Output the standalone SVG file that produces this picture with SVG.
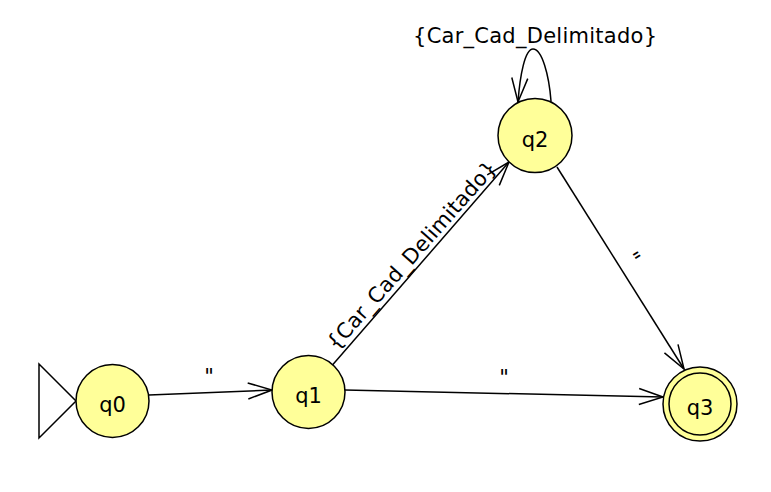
<svg xmlns="http://www.w3.org/2000/svg" width="771" height="492" viewBox="0 0 771 492">
<style>
.node{fill:#ffff99;stroke:#000;stroke-width:1.5}
.edge{fill:none;stroke:#000;stroke-width:1.5}
.t{font-family:"DejaVu Sans","Liberation Sans",sans-serif;font-size:21px;fill:#000;text-anchor:middle}
.lbl{font-family:"DejaVu Sans","Liberation Sans",sans-serif;font-size:21px;fill:#000;text-anchor:middle}
</style>
<defs>
<marker id="arr" markerUnits="userSpaceOnUse" markerWidth="30" markerHeight="20" viewBox="-26 -10 30 20" refX="0" refY="0" orient="auto" overflow="visible">
<path d="M-24,-8 L0,0 L-24,8" fill="none" stroke="#000" stroke-width="1.5"/>
</marker>
</defs>
<rect width="771" height="492" fill="#fff"/>
<g id="connectors">
<path id="start" d="M39,364 L39,438 L76,401 Z" fill="none" stroke="#000" stroke-width="1.5"/>
<path class="edge" d="M149,395 L272,390" marker-end="url(#arr)"/>
<path class="edge" d="M345,390 L663,397" marker-end="url(#arr)"/>
<path class="edge" d="M332.7,364.7 L509,162" marker-end="url(#arr)"/>
<path class="edge" d="M557,167 L684,369" marker-end="url(#arr)"/>
<path class="edge" d="M551,101 C549,75 542,49 533,49 C525,49 520,75 518,102" marker-end="url(#arr)"/>
<text class="lbl" x="209" y="384">"</text>
<text class="lbl" x="504" y="385">"</text>
<text class="lbl" transform="translate(417,260) rotate(-48.5)" x="0" y="0" textLength="244" lengthAdjust="spacing">{Car_Cad_Delimitado}</text>
<text class="lbl" transform="translate(626,261.5) rotate(58.5)" x="0" y="0">"</text>
<text class="lbl" x="535" y="43" textLength="244" lengthAdjust="spacing">{Car_Cad_Delimitado}</text>
</g>
<g id="q0">
<circle class="node" cx="112.5" cy="401" r="36.5"/>
<text class="t" x="112.5" y="412">q0</text>
</g>
<g id="q1">
<circle class="node" cx="308.5" cy="392" r="36.5"/>
<text class="t" x="308.5" y="403">q1</text>
</g>
<g id="q2">
<circle class="node" cx="535" cy="135.5" r="37"/>
<text class="t" x="535" y="146.5">q2</text>
</g>
<g id="q3">
<circle class="node" cx="700" cy="404" r="37"/>
<circle class="node" cx="700" cy="404" r="31"/>
<text class="t" x="700" y="415">q3</text>
</g>
</svg>
